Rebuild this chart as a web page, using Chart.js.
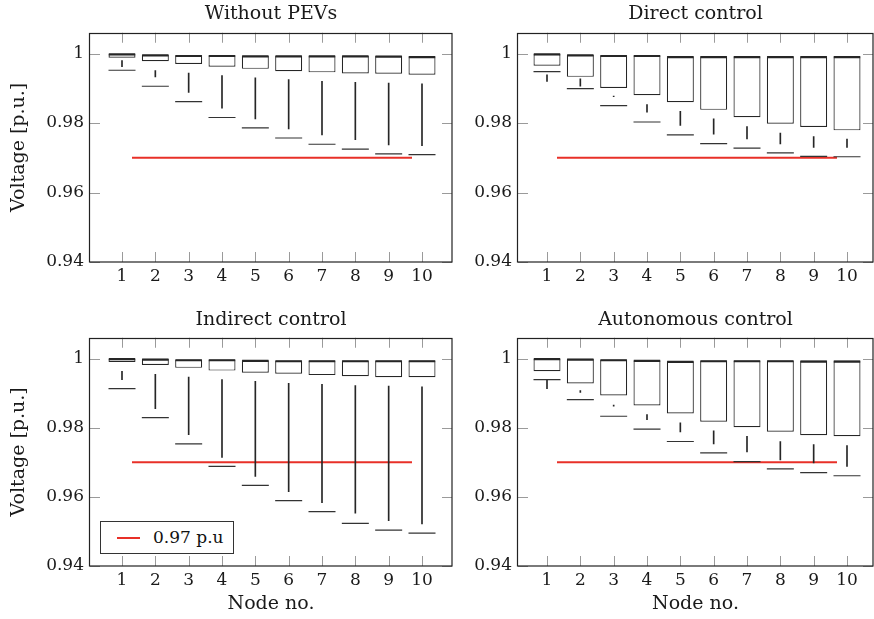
<!DOCTYPE html>
<html>
<head>
<meta charset="utf-8">
<script src="https://cdn.jsdelivr.net/npm/chart.js@4.4.1/dist/chart.umd.min.js"></script>
<style>
html,body{margin:0;padding:0;background:#fff;}
#wrap{position:relative;width:874px;height:619px;overflow:hidden;background:#fff;}
canvas{position:absolute;}
#legend{position:absolute;left:100px;top:521px;width:134px;height:33px;border:1px solid #333;background:#fff;box-sizing:border-box;font-family:"DejaVu Serif",serif;font-size:17px;color:#111;}
#legend .swatch{position:absolute;left:16px;top:15px;width:23px;height:2px;background:rgb(232,48,40);}
#legend .lbl{position:absolute;left:52px;top:3px;line-height:24px;white-space:nowrap;}
</style>
</head>
<body>
<div id="wrap">
  <canvas id="c1" width="470" height="300" style="left:0px;top:0px;width:470px;height:300px;"></canvas>
  <canvas id="c2" width="404" height="300" style="left:470px;top:0px;width:404px;height:300px;"></canvas>
  <canvas id="c3" width="470" height="319" style="left:0px;top:300px;width:470px;height:319px;"></canvas>
  <canvas id="c4" width="404" height="319" style="left:470px;top:300px;width:404px;height:319px;"></canvas>
  <div id="legend"><div class="swatch"></div><div class="lbl">0.97 p.u</div></div>
</div>
<script>
// ---------- data ----------
const nodes = [1, 2, 3, 4, 5, 6, 7, 8, 9, 10];
const xTickLabels = ['1', '2', '3', '4', '5', '6', '7', '8', '9', '10'];
const yTicks = [0.94, 0.96, 0.98, 1];
const yTickLabels = ['0.94', '0.96', '0.98', '1'];
const panelTitles = ['Without PEVs', 'Direct control', 'Indirect control', 'Autonomous control'];
const yAxisTitle = 'Voltage [p.u.]';
const xAxisTitle = 'Node no.';
const limitLabel = '0.97 p.u';
const limitValue = 0.97;
const limitSpan = [1.3, 9.7];

// Without PEVs
const woQ3 = [0.9999, 0.9997, 0.9995, 0.9995, 0.9994, 0.9994, 0.9994, 0.9994, 0.9994, 0.9992];
const woMed = [0.9998, 0.9995, 0.9993, 0.9993, 0.9992, 0.9992, 0.9992, 0.9992, 0.9991, 0.9990];
const woQ1 = [0.9988, 0.9978, 0.9970, 0.9962, 0.9956, 0.9949, 0.9946, 0.9943, 0.9942, 0.9939];
const woWhiskTop = [0.9980, 0.9951, 0.9944, 0.9937, 0.9930, 0.9925, 0.9920, 0.9917, 0.9915, 0.9913];
const woWhiskBot = [0.9962, 0.9933, 0.9888, 0.9843, 0.9812, 0.9783, 0.9766, 0.9752, 0.9737, 0.9735];
const woMin = [0.9952, 0.9906, 0.9862, 0.9816, 0.9786, 0.9757, 0.9739, 0.9725, 0.9711, 0.9709];

// Direct control
const dcQ3 = [0.9999, 0.9997, 0.9995, 0.9995, 0.9992, 0.9992, 0.9992, 0.9992, 0.9992, 0.9992];
const dcMed = [0.9998, 0.9995, 0.9993, 0.9993, 0.9990, 0.9990, 0.9990, 0.9990, 0.9990, 0.9990];
const dcQ1 = [0.9965, 0.9933, 0.9901, 0.9880, 0.9860, 0.9838, 0.9817, 0.9798, 0.9789, 0.9779];
const dcWhiskTop = [0.9939, 0.9927, 0.9878, 0.9853, 0.9834, 0.9812, 0.9790, 0.9771, 0.9761, 0.9754];
const dcWhiskBot = [0.9920, 0.9906, 0.9876, 0.9831, 0.9793, 0.9768, 0.9754, 0.9740, 0.9730, 0.9730];
const dcMin = [0.9948, 0.9899, 0.9850, 0.9803, 0.9766, 0.9741, 0.9728, 0.9714, 0.9704, 0.9703];

// Indirect control
const icQ3 = [0.9999, 0.9999, 0.9997, 0.9997, 0.9995, 0.9994, 0.9994, 0.9994, 0.9994, 0.9994];
const icMed = [0.9998, 0.9997, 0.9995, 0.9995, 0.9993, 0.9992, 0.9992, 0.9992, 0.9992, 0.9992];
const icQ1 = [0.9990, 0.9981, 0.9973, 0.9965, 0.9959, 0.9956, 0.9952, 0.9949, 0.9946, 0.9946];
const icWhiskTop = [0.9963, 0.9954, 0.9946, 0.9939, 0.9934, 0.9928, 0.9925, 0.9922, 0.9920, 0.9918];
const icWhiskBot = [0.9939, 0.9855, 0.9780, 0.9714, 0.9659, 0.9615, 0.9583, 0.9553, 0.9531, 0.9522];
const icMin = [0.9913, 0.9829, 0.9753, 0.9688, 0.9633, 0.9589, 0.9557, 0.9523, 0.9504, 0.9495];

// Autonomous control
const acQ3 = [0.9999, 0.9999, 0.9997, 0.9995, 0.9992, 0.9994, 0.9994, 0.9994, 0.9994, 0.9994];
const acMed = [0.9998, 0.9997, 0.9995, 0.9993, 0.9990, 0.9992, 0.9992, 0.9992, 0.9991, 0.9991];
const acQ1 = [0.9963, 0.9928, 0.9893, 0.9864, 0.9841, 0.9817, 0.9801, 0.9788, 0.9778, 0.9775];
const acWhiskTop = [0.9937, 0.9907, 0.9865, 0.9838, 0.9814, 0.9791, 0.9775, 0.9760, 0.9751, 0.9748];
const acWhiskBot = [0.9913, 0.9902, 0.9862, 0.9823, 0.9788, 0.9753, 0.9730, 0.9707, 0.9698, 0.9688];
const acMin = [0.9939, 0.9881, 0.9833, 0.9796, 0.9760, 0.9727, 0.9702, 0.9681, 0.9670, 0.9661];

// ---------- styling ----------
const FONT = '"DejaVu Serif", "Liberation Serif", serif';
const TITLE_SIZE = 19;
const TICK_SIZE = 17;
const INK = '#1a1a1a';
const BOX = '#262626';
const RED = 'rgb(232,48,40)';

const framePlugin = {
  id: 'frame',
  beforeDatasetsDraw(chart) {
    const {ctx, chartArea: a, scales: {x, y}} = chart;
    ctx.save();
    ctx.strokeStyle = '#9a9a9a';
    ctx.lineWidth = 1;
    const TL = 10;
    ctx.beginPath();
    nodes.forEach(v => {
      const px = Math.round(x.getPixelForValue(v)) + 0.5;
      ctx.moveTo(px, a.bottom); ctx.lineTo(px, a.bottom - TL);
      ctx.moveTo(px, a.top); ctx.lineTo(px, a.top + TL);
    });
    yTicks.forEach(v => {
      const py = Math.round(y.getPixelForValue(v)) + 0.5;
      ctx.moveTo(a.left, py); ctx.lineTo(a.left + TL, py);
      ctx.moveTo(a.right, py); ctx.lineTo(a.right - TL, py);
    });
    ctx.stroke();
    ctx.strokeStyle = '#222';
    ctx.lineWidth = 1.2;
    ctx.strokeRect(Math.round(a.left) - 0.5, Math.round(a.top) + 0.5,
                   Math.round(a.right - a.left) + 0.5, Math.round(a.bottom - a.top) - 0.5);
    ctx.restore();
  }
};

function pts(vals) { return nodes.map((n, i) => ({x: n, y: vals[i]})); }
function spans(lo, hi) { return nodes.map((n, i) => ({x: n, y: [lo[i], hi[i]]})); }

function makePanel(id, p) {
  const ctx = document.getElementById(id);
  return new Chart(ctx, {
    type: 'bar',
    data: {
      datasets: [
        { type: 'line', label: limitLabel, data: [{x: limitSpan[0], y: limitValue}, {x: limitSpan[1], y: limitValue}],
          borderColor: RED, borderWidth: 2, pointRadius: 0, order: 10 },
        { type: 'bar', label: 'box', data: spans(p.q1, p.q3), grouped: false,
          backgroundColor: '#ffffff', borderColor: BOX, borderWidth: 1.2, borderSkipped: false,
          barPercentage: 0.9, categoryPercentage: 0.9, order: 5 },
        { type: 'bar', label: 'whisker', data: spans(p.wb, p.wt), grouped: false,
          backgroundColor: BOX, borderWidth: 0, barThickness: 1, order: 4 },
        { type: 'line', label: 'median', data: pts(p.med), showLine: false,
          pointStyle: 'line', pointRadius: 13.2, pointBorderWidth: 2.2, pointBorderColor: BOX, order: 1 },
        { type: 'line', label: 'min', data: pts(p.min), showLine: false,
          pointStyle: 'line', pointRadius: 13.5, pointBorderWidth: 1.2, pointBorderColor: '#333', order: 1 }
      ]
    },
    options: {
      responsive: false,
      animation: false,
      events: [],
      layout: { autoPadding: false, padding: { left: 0, top: 0, right: p.padRight, bottom: 0 } },
      plugins: {
        legend: { display: false },
        tooltip: { enabled: false },
        title: {
          display: true, text: p.title, fullSize: false, color: INK,
          font: { family: FONT, size: TITLE_SIZE, weight: 'normal', lineHeight: 1.25 },
          padding: { top: p.titleTop, bottom: p.titleBottom }
        }
      },
      scales: {
        x: {
          type: 'linear', min: p.xMin, max: p.xMax, offset: false,
          grid: { display: false, drawTicks: false, offset: false },
          border: { display: false },
          afterBuildTicks: s => { s.ticks = nodes.map(v => ({value: v})); },
          afterFit: s => { s.height = p.xAxisH; s.paddingLeft = 0; s.paddingRight = 0; },
          ticks: {
            autoSkip: false, maxRotation: 0, padding: 4, color: INK,
            font: { family: FONT, size: TICK_SIZE },
            callback: v => xTickLabels[nodes.indexOf(v)]
          },
          title: {
            display: p.showXTitle, text: xAxisTitle, color: INK,
            font: { family: FONT, size: TITLE_SIZE, lineHeight: 1.25 },
            padding: { top: 0, bottom: 3 }
          }
        },
        y: {
          type: 'linear', min: 0.94, max: 1.006,
          grid: { display: false, drawTicks: false },
          border: { display: false },
          afterBuildTicks: s => { s.ticks = yTicks.map(v => ({value: v})); },
          afterFit: s => { s.width = p.yAxisW; s.paddingTop = 0; s.paddingBottom = 0; },
          ticks: {
            padding: 6, color: INK,
            font: { family: FONT, size: TICK_SIZE },
            callback: v => yTickLabels[yTicks.indexOf(v)]
          },
          title: {
            display: p.showYTitle, text: yAxisTitle, color: INK,
            font: { family: FONT, size: TITLE_SIZE, lineHeight: 1.25 },
            padding: { top: 7, bottom: 0 }
          }
        }
      }
    },
    plugins: [framePlugin]
  });
}

const leftGeom = { xMin: 0.04, xMax: 10.9, yAxisW: 90, padRight: 18, showYTitle: true };
const rightGeom = { xMin: 0.13, xMax: 10.78, yAxisW: 48, padRight: 1, showYTitle: false };
const topGeom = { titleTop: 2, titleBottom: 7, xAxisH: 38, showXTitle: false };
const botGeom = { titleTop: 8, titleBottom: 6, xAxisH: 53, showXTitle: true };

makePanel('c1', Object.assign({ title: panelTitles[0], q1: woQ1, q3: woQ3, med: woMed, wt: woWhiskTop, wb: woWhiskBot, min: woMin }, leftGeom, topGeom));
makePanel('c2', Object.assign({ title: panelTitles[1], q1: dcQ1, q3: dcQ3, med: dcMed, wt: dcWhiskTop, wb: dcWhiskBot, min: dcMin }, rightGeom, topGeom));
makePanel('c3', Object.assign({ title: panelTitles[2], q1: icQ1, q3: icQ3, med: icMed, wt: icWhiskTop, wb: icWhiskBot, min: icMin }, leftGeom, botGeom));
makePanel('c4', Object.assign({ title: panelTitles[3], q1: acQ1, q3: acQ3, med: acMed, wt: acWhiskTop, wb: acWhiskBot, min: acMin }, rightGeom, botGeom));
</script>
</body>
</html>
